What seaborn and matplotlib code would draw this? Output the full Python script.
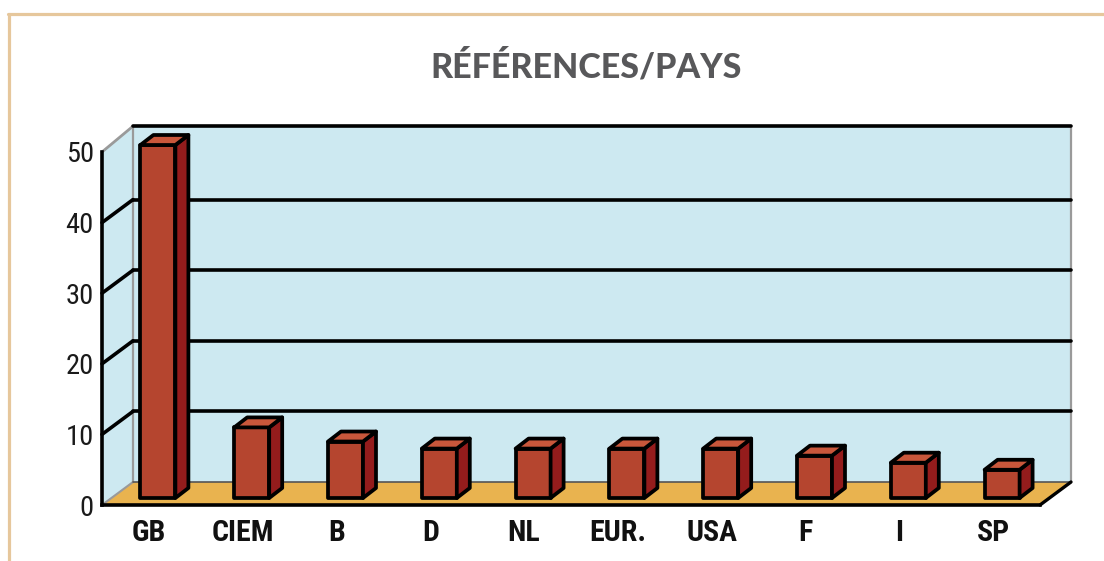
import matplotlib
matplotlib.use("Agg")
import matplotlib.pyplot as plt
from matplotlib import font_manager
from matplotlib.lines import Line2D
from matplotlib.patches import Polygon
import numpy as np
import pandas as pd
import seaborn as sns

# data
pays = ["GB", "CIEM", "B", "D", "NL", "EUR.", "USA", "F", "I", "SP"]
references = [50, 10, 8, 7, 7, 7, 7, 6, 5, 4]
y_ticks = [0, 10, 20, 30, 40, 50]
titre = "RÉFÉRENCES/PAYS"

FRONT = "#b5452f"
SIDE = "#941c1c"
TOP = "#c9573b"
WALL = "#cde9f1"
FLOOR = "#e9b34f"
FRAME = "#e6c79c"

_fonts = font_manager.fontManager.ttflist


def _weight(f) -> int:
    if isinstance(f.weight, int):
        return f.weight
    return {"bold": 700, "heavy": 800, "black": 900}.get(f.weight, 400)


def _pick(candidates, default, min_weight=0):
    for name in candidates:
        if any(f.name == name and _weight(f) >= min_weight for f in _fonts):
            return name
    return default


sns.set_style("white")
narrow = _pick(["Roboto Condensed", "Archivo Narrow", "PT Sans Narrow",
                "Liberation Sans Narrow", "Arimo"], "Liberation Sans")
title_font = _pick(["Jost", "League Spartan", "Spartan", "Kumbh Sans", "Outfit"], "Lato",
                   min_weight=700)
title_weight = 900 if any(f.name == title_font and _weight(f) >= 900 for f in _fonts) else "bold"
plt.rcParams["font.family"] = [narrow, "DejaVu Sans"]

W, H, DPI = 1104, 561, 100
fig = plt.figure(figsize=(W / DPI, H / DPI), dpi=DPI)

# front plane of the 3d box, in pixels
x_left, x_right, y_zero, y_top = 102, 1040, 505, 152
ax = fig.add_axes([x_left / W, 1 - y_zero / H, (x_right - x_left) / W, (y_zero - y_top) / H])

df = pd.DataFrame({"pays": pays, "n": references})
sns.barplot(data=df, x="pays", y="n", color=FRONT, width=0.373, saturation=1,
            edgecolor="black", linewidth=2.7, ax=ax, zorder=4)

ax.set_xlim(-0.5, len(pays) - 0.5)
ax.set_ylim(0, 50)

px_x = (x_right - x_left) / len(pays)
px_y = (y_zero - y_top) / 50.0

# depth of the box and of the bars, converted to data units
DX, DY = 31 / px_x, 23 / px_y
fx, fy = 9 / px_x, 7 / px_y
bx, by = 13 / px_x, 10 / px_y

x0, x1 = -0.5, len(pays) - 0.5
top_wall = 50 + DY + 0.4

# walls and floor
ax.add_patch(Polygon([(x0 + DX, DY), (x1 + DX, DY), (x1 + DX, top_wall), (x0 + DX, top_wall)],
                     closed=True, facecolor=WALL, edgecolor="none", zorder=0, clip_on=False))
ax.add_patch(Polygon([(x0, 0), (x0 + DX, DY), (x0 + DX, top_wall), (x0, 50)],
                     closed=True, facecolor=WALL, edgecolor="none", zorder=0, clip_on=False))
ax.add_patch(Polygon([(x0, 0), (x1, 0), (x1 + DX, DY), (x0 + DX, DY)],
                     closed=True, facecolor=FLOOR, edgecolor="none", zorder=1, clip_on=False))

gray = "#9a9a9a"
ax.plot([x0 + DX, x0 + DX], [DY, top_wall], color=gray, lw=1.6, zorder=1, clip_on=False)
ax.plot([x1 + DX, x1 + DX], [DY, top_wall], color=gray, lw=1.6, zorder=1, clip_on=False)
ax.plot([x0, x0 + DX], [50, top_wall], color=gray, lw=2, zorder=1, clip_on=False)
ax.plot([x0, x0 + DX], [0, DY], color=gray, lw=1.5, zorder=1, clip_on=False)
ax.plot([x0 + DX, x1 + DX], [DY, DY], color="#555555", lw=1.2, zorder=1.5, clip_on=False)
ax.plot([x1, x1 + DX], [0, DY], color="black", lw=2.4, zorder=2, clip_on=False)

for v in y_ticks[1:]:
    yb = top_wall if v == 50 else v + DY
    ax.plot([x0 + DX, x1 + DX], [yb, yb], color="black", lw=2.6, zorder=1.5,
            clip_on=False, solid_capstyle="round")
    if v < 50:
        ax.plot([x0, x0 + DX], [v, yb], color="black", lw=2.6, zorder=1.5, clip_on=False)

# push the bar fronts into the box and add the side and top faces
for p in ax.patches:
    if not hasattr(p, "get_width") or p.get_height() <= 0:
        continue
    xa = p.get_x() + fx
    w = p.get_width()
    h = p.get_height()
    p.set_x(xa)
    p.set_y(fy)
    p.set_clip_on(False)
    p.set_joinstyle("round")
    xb = xa + w
    side = [(xb, fy), (xb + bx, fy + by), (xb + bx, fy + h + by), (xb, fy + h)]
    top = [(xa, fy + h), (xb, fy + h), (xb + bx, fy + h + by), (xa + bx, fy + h + by)]
    ax.add_patch(Polygon(side, closed=True, facecolor=SIDE, edgecolor="black", lw=2.7,
                         joinstyle="round", zorder=4, clip_on=False))
    ax.add_patch(Polygon(top, closed=True, facecolor=TOP, edgecolor="black", lw=2.7,
                         joinstyle="round", zorder=4, clip_on=False))

# axes
for s in ["top", "right"]:
    ax.spines[s].set_visible(False)
for s in ["left", "bottom"]:
    ax.spines[s].set_color("black")
    ax.spines[s].set_linewidth(2.6)
    ax.spines[s].set_zorder(5)
ax.set_facecolor("none")
ax.set_xlabel("")
ax.set_ylabel("")

ax.set_yticks(y_ticks)
ax.set_yticklabels([str(v) for v in y_ticks])
ax.tick_params(axis="y", direction="out", length=5, width=2.4, color="black",
               labelsize=20.5, pad=1, labelcolor="#1a1a1a")
ax.set_xticks(range(len(pays)))
ax.set_xticklabels(pays, fontweight="bold")
ax.set_xticks(np.arange(-0.5, len(pays), 1.0), minor=True)
ax.tick_params(axis="x", which="major", length=0, labelsize=21.5, pad=10, labelcolor="#111111")
ax.tick_params(axis="x", which="minor", direction="out", length=5, width=2.4, color="black")
ax.grid(False)

fig.text(586 / W, 1 - 67 / H, titre, ha="center", va="center", fontsize=24.5,
         fontweight=title_weight, color="#58585a", family=[title_font, "DejaVu Sans"])

# thin tan frame at top and left
fig.add_artist(Line2D([8 / W, 1], [1 - 14 / H, 1 - 14 / H], color=FRAME, lw=2.3,
                      transform=fig.transFigure))
fig.add_artist(Line2D([9 / W, 9 / W], [1 - 14 / H, 0], color=FRAME, lw=2.3,
                      transform=fig.transFigure))

fig.savefig("out.png", dpi=DPI, facecolor="white")
plt.close(fig)
